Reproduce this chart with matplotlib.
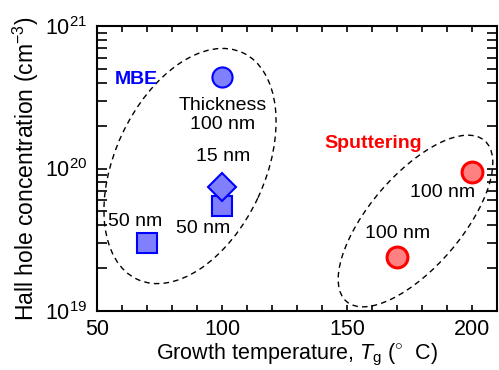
import matplotlib.pyplot as plt
import matplotlib.transforms as mtransforms
from matplotlib.patches import Ellipse
from matplotlib.ticker import LogLocator, MultipleLocator, NullFormatter

plt.rcParams['font.family'] = ['Liberation Sans', 'DejaVu Sans']
plt.rcParams['mathtext.fontset'] = 'custom'
plt.rcParams['mathtext.rm'] = 'Liberation Sans'
plt.rcParams['mathtext.it'] = 'Liberation Sans:italic'

# MBE samples
mbe_sq_x = [70, 100]
mbe_sq_y = [3.0e19, 5.5e19]
mbe_dia_x = [100]
mbe_dia_y = [7.4e19]
mbe_circ_x = [100]
mbe_circ_y = [4.4e20]

# sputtered samples
sp_x = [170, 200]
sp_y = [2.4e19, 9.4e19]

fig = plt.figure(figsize=(4.99, 3.70), dpi=100)
ax = fig.add_axes([0.1944, 0.1595, 0.8016, 0.770])

blue_face = '#8080ff'
red_face = '#ff8080'

ax.plot(mbe_sq_x, mbe_sq_y, 's', ms=14, mfc=blue_face, mec='blue', mew=1.5, zorder=3)
ax.plot(mbe_dia_x, mbe_dia_y, 'D', ms=14, mfc=blue_face, mec='blue', mew=1.5, zorder=4)
ax.plot(mbe_circ_x, mbe_circ_y, 'o', ms=14.5, mfc=blue_face, mec='blue', mew=1.5, zorder=3)
ax.plot(sp_x, sp_y, 'o', ms=15, mfc=red_face, mec='red', mew=2.2, zorder=3)

ax.set_xlim(50, 210)
ax.set_ylim(1e19, 1e21)
ax.set_yscale('log')

# dashed ellipses, sized in axes pixels
px = mtransforms.Affine2D().scale(1 / 400, 1 / 285) + ax.transAxes
ax.add_patch(Ellipse((93, 145), 250, 150, angle=65, transform=px,
                     fill=False, ls=(0, (4, 3)), lw=1, ec='black'))
ax.add_patch(Ellipse((318.5, 90), 212, 92, angle=49.4, transform=px,
                     fill=False, ls=(0, (4, 3)), lw=1, ec='black'))

fs = 14
ax.text(65.6, 4.2e20, 'MBE', color='blue', fontweight='bold', fontsize=14, ha='center', va='center')
ax.text(100.4, 2.37e20, 'Thickness\n100 nm', fontsize=fs, ha='center', va='center', linespacing=1.15)
ax.text(100.4, 1.22e20, '15 nm', fontsize=fs, ha='center', va='center')
ax.text(92.4, 3.8e19, '50 nm', fontsize=fs, ha='center', va='center')
ax.text(65.2, 4.27e19, '50 nm', fontsize=fs, ha='center', va='center')
ax.text(160.4, 1.51e20, 'Sputtering', color='red', fontweight='bold', fontsize=14, ha='center', va='center')
ax.text(188.4, 6.84e19, '100 nm', fontsize=fs, ha='center', va='center')
ax.text(170.4, 3.5e19, '100 nm', fontsize=fs, ha='center', va='center')

ax.set_xticks([50, 100, 150, 200])
ax.xaxis.set_minor_locator(MultipleLocator(10))
ax.yaxis.set_major_locator(LogLocator(base=10, numticks=5))
ax.yaxis.set_minor_locator(LogLocator(base=10, subs=range(2, 10), numticks=20))
ax.yaxis.set_minor_formatter(NullFormatter())
ax.tick_params(which='both', direction='in', top=True, right=True, labelsize=15.5, width=1.2)
ax.tick_params(axis='x', which='both', length=4.5, pad=6)
ax.tick_params(axis='y', which='both', length=7, pad=7)
for s in ax.spines.values():
    s.set_linewidth(1.5)

ax.set_xlabel(r'Growth temperature, $T_\mathrm{g}$ ($^{\circ}$  C)', fontsize=15.5, labelpad=1)
ax.set_ylabel(r'Hall hole concentration (cm$^{-3}$)', fontsize=16.5, labelpad=3)

fig.savefig('out.png', dpi=100)
